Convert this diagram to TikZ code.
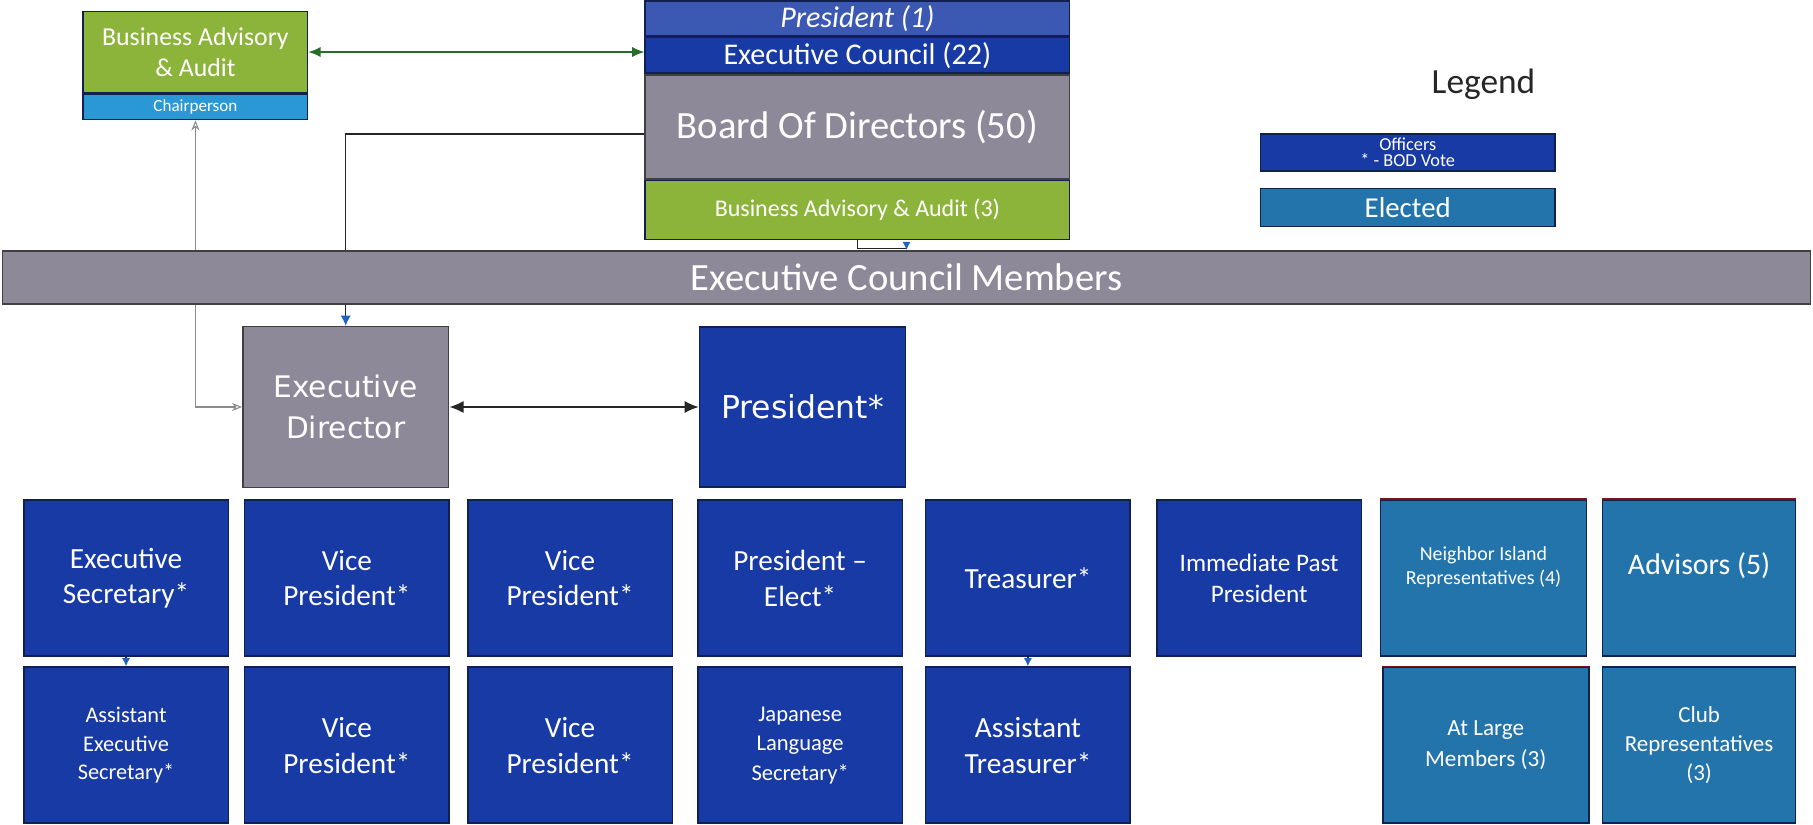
\documentclass[tikz,border=0pt]{standalone}
\usepackage{fontspec}
\setmainfont{Carlito}
\newfontfamily\verdanafont{DejaVu Sans}
\usetikzlibrary{arrows.meta}

\definecolor{officerblue}{RGB}{24,58,164}
\definecolor{electedblue}{RGB}{36,116,172}
\definecolor{councilgrey}{RGB}{142,137,153}
\definecolor{auditgreen}{RGB}{140,180,58}
\definecolor{chairblue}{RGB}{42,152,212}
\definecolor{linkgreen}{RGB}{40,110,40}
\definecolor{tipblue}{RGB}{30,100,190}
\definecolor{edgenavy}{RGB}{18,32,80}
\definecolor{edgered}{RGB}{120,20,30}

\begin{document}
\begin{tikzpicture}[x=0.02cm, y=-0.02cm,
    cell/.style={draw=edgenavy, line width=0.8pt, text=white, align=center, inner sep=1pt},
    officerbox/.style={cell, fill=officerblue, minimum width=3.54cm, minimum height=2.7cm,
      font=\fontsize{14.4}{17.6}\selectfont},
    electedbox/.style={cell, fill=electedblue, minimum width=3.56cm, minimum height=2.7cm},
    greybox/.style={cell, draw=black!75, fill=councilgrey},
    strip/.style={cell, minimum width=7.34cm},
    connector/.style={draw=black!85, line width=0.7pt},
    bluetip/.style={-{Latex[length=4pt,width=4pt,color=tipblue]}},
  ]
  \useasboundingbox (0,0) rectangle (1568,713.5);

  % Business advisory committee, top left
  \node[cell, fill=auditgreen, minimum width=3.88cm, minimum height=1.4cm,
    font=\fontsize{12.7}{15.4}\selectfont] (bizaudit) at (169,45) {Business Advisory\\\& Audit};
  \node[cell, fill=chairblue, minimum width=3.88cm, minimum height=0.44cm, anchor=north,
    font=\fontsize{8.4}{9}\selectfont] (chair) at (bizaudit.south) {Chairperson};

  % Board block, stacked strips
  \node[strip, fill=officerblue!85!white, minimum height=0.6cm,
    font=\itshape\fontsize{14.8}{16}\selectfont] (pres1) at (741.5,16) {President (1)};
  \node[strip, fill=officerblue, minimum height=0.62cm, anchor=north,
    font=\fontsize{14.8}{16}\selectfont] (council) at (pres1.south) {Executive Council (22)};
  \node[strip, greybox, minimum height=1.8cm, anchor=north,
    font=\fontsize{19}{22}\selectfont] (board) at (council.south) {Board Of Directors (50)};
  \node[strip, fill=auditgreen, minimum height=1.02cm, anchor=north,
    font=\fontsize{11.8}{14}\selectfont] (baa3) at (board.south) {Business Advisory \& Audit (3)};

  % Legend
  \node[text=black!85, font=\fontsize{17.4}{20}\selectfont] (legend) at (1283,73) {Legend};
  \node[cell, fill=officerblue, minimum width=5.1cm, minimum height=0.64cm,
    font=\fontsize{9}{8}\selectfont] (keyofficer) at (1217.5,132) {Officers\\* - BOD Vote};
  \node[cell, fill=electedblue, minimum width=5.1cm, minimum height=0.66cm,
    font=\fontsize{14.2}{16}\selectfont] (keyelected) at (1217.5,179.5) {Elected};

  % Executive director and president
  \node[greybox, minimum width=3.56cm, minimum height=2.78cm,
    font=\verdanafont\fontsize{14.6}{20.3}\selectfont] (execdir) at (299,352) {Executive\\Director};
  \node[officerbox, minimum width=3.56cm, minimum height=2.76cm,
    font=\verdanafont\fontsize{15.5}{18}\selectfont] (pres) at (694,352) {President*};

  % Lines that run behind the members band
  \draw[connector, linkgreen, {Latex[length=6pt,width=5pt]}-{Latex[length=6pt,width=5pt]}]
    (bizaudit.east) -- (bizaudit.east -| council.west);
  \draw[connector, -{Latex[length=5pt,width=5pt,color=tipblue]}]
    ([yshift=-3.4pt]board.west) -| (execdir.north);
  \draw[draw=black!45, line width=0.5pt, {Stealth[open,length=5pt,width=4pt]}-{Stealth[open,length=5pt,width=4pt]}]
    (chair.south) |- (execdir.west);

  % Members band
  \node[greybox, minimum width=31.28cm, minimum height=0.92cm,
    font=\fontsize{19}{22}\selectfont] (band) at (784,240) {Executive Council Members};
  \draw[connector, bluetip] (baa3.south) -- ++(0,7) -| (band.north);

  \draw[connector, {Latex[length=7pt,width=6pt]}-{Latex[length=7pt,width=6pt]}]
    (execdir.east) -- (pres.west);

  % First row of officers
  \node[officerbox] (execsec) at (109,500) {Executive\\Secretary*};
  \node[officerbox] (vp1) at (300,500) {Vice\\President*};
  \node[officerbox] (vp2) at (493,500) {Vice\\President*};
  \node[officerbox] (preselect) at (692,500) {President --\\Elect*};
  \node[officerbox] (treasurer) at (889,500) {Treasurer*};
  \node[officerbox, font=\fontsize{12.4}{15.4}\selectfont] (pastpres) at (1089,500) {Immediate Past\\President};
  \node[electedbox, font=\fontsize{9.8}{11.7}\selectfont, text depth=12.5pt] (island) at (1283,500) {Neighbor Island\\Representatives (4)};
  \node[electedbox, minimum width=3.34cm, font=\fontsize{14.7}{17}\selectfont, text depth=14pt] (advisors) at (1469.5,500) {Advisors (5)};

  % Second row
  \node[officerbox, font=\fontsize{11}{14}\selectfont] (asstsec) at (109,644.5) {Assistant\\Executive\\Secretary*};
  \node[officerbox] (vp3) at (300,644.5) {Vice\\President*};
  \node[officerbox] (vp4) at (493,644.5) {Vice\\President*};
  \node[officerbox, font=\fontsize{11.1}{14.5}\selectfont] (japanese) at (692,644.5) {Japanese\\Language\\Secretary*};
  \node[officerbox] (asstreas) at (889,644.5) {Assistant\\Treasurer*};
  \node[electedbox, font=\fontsize{11.4}{15}\selectfont] (atlarge) at (1285,644.5) {At Large\\Members (3)};
  \node[electedbox, minimum width=3.34cm, font=\fontsize{11.3}{14.3}\selectfont] (club) at (1469.5,644.5) {Club\\Representatives\\(3)};

  % Red top edges of some elected boxes
  \draw[edgered, line width=0.8pt] (island.north west) -- (island.north east);
  \draw[edgered, line width=0.8pt] (advisors.north west) -- (advisors.north east);
  \draw[edgered, line width=0.8pt] (atlarge.north west) -- (atlarge.north east);

  % Assistants hang under their officer
  \draw[connector, bluetip] (execsec.south) -- (asstsec.north);
  \draw[connector, bluetip] (treasurer.south) -- (asstreas.north);
\end{tikzpicture}
\end{document}
